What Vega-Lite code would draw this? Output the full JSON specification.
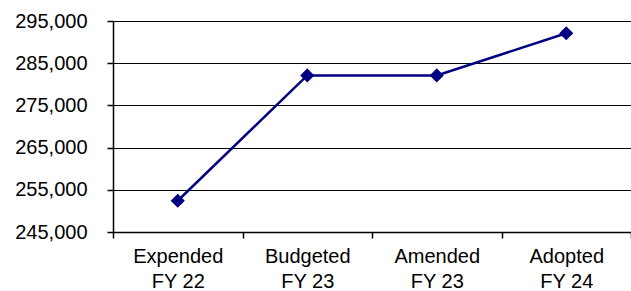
{
  "$schema": "https://vega.github.io/schema/vega-lite/v6.json",
  "autosize": "none",
  "width": 518,
  "height": 211,
  "padding": {"left": 113, "top": 21, "right": 0, "bottom": 59},
  "background": "white",
  "config": {
    "view": {"stroke": null},
    "font": "Liberation Sans",
    "axis": {
      "labelFont": "Liberation Sans",
      "labelFontSize": 20,
      "labelColor": "black",
      "domainColor": "black",
      "tickColor": "black",
      "gridColor": "black",
      "gridOpacity": 1,
      "domainWidth": 1.5,
      "tickWidth": 1.5,
      "gridWidth": 1
    }
  },
  "data": {
    "values": [
      {"category": "Expended FY 22", "value": 252400},
      {"category": "Budgeted FY 23", "value": 282100},
      {"category": "Amended FY 23", "value": 282100},
      {"category": "Adopted FY 24", "value": 292100}
    ]
  },
  "encoding": {
    "x": {
      "field": "category",
      "type": "nominal",
      "sort": null,
      "scale": {"type": "band", "paddingInner": 0, "paddingOuter": 0},
      "axis": {
        "title": null,
        "labelAngle": 0,
        "tickBand": "extent",
        "tickSize": 6,
        "labelPadding": 8,
        "labelLineHeight": 25,
        "grid": false,
        "labelExpr": "datum.value ? [split(datum.value, ' ')[0], 'FY ' + split(datum.value, ' ')[2]] : ''"
      }
    },
    "y": {
      "field": "value",
      "type": "quantitative",
      "scale": {"domain": [245000, 295000], "nice": false, "zero": false},
      "axis": {
        "title": null,
        "values": [245000, 255000, 265000, 275000, 285000, 295000],
        "format": ",d",
        "tickSize": 6,
        "labelPadding": 20,
        "grid": true
      }
    }
  },
  "layer": [
    {"mark": {"type": "line", "color": "#000080", "strokeWidth": 2.5}},
    {"mark": {"type": "point", "shape": "diamond", "filled": true, "color": "#000080", "size": 200, "opacity": 1}}
  ]
}
